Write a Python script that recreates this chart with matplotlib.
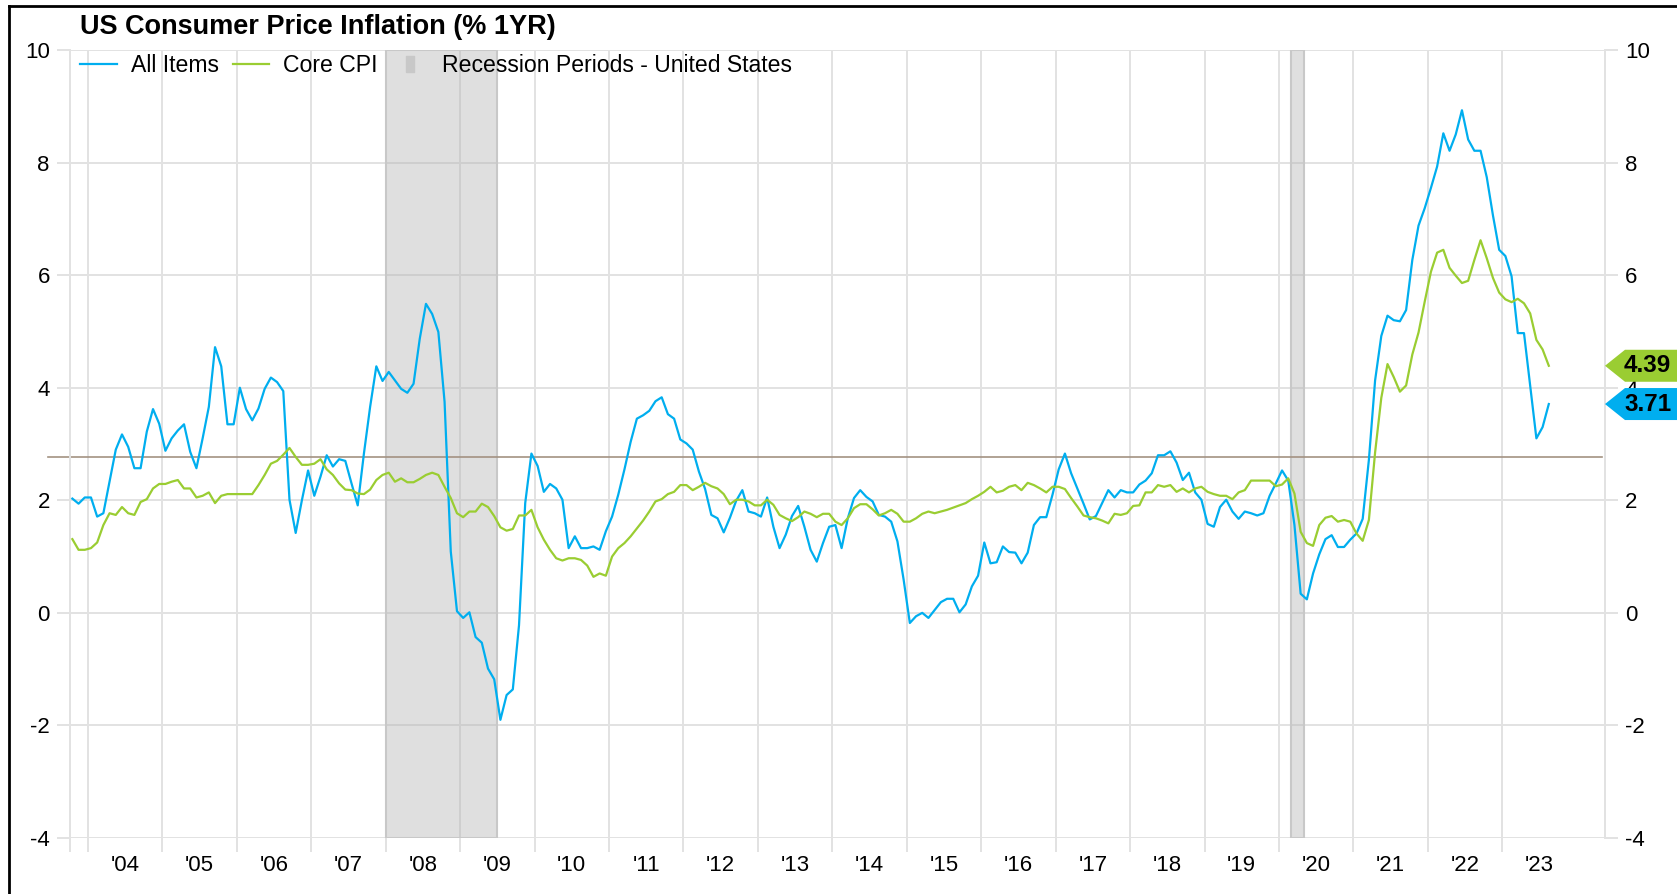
import numpy as np
import matplotlib.pyplot as plt
from matplotlib.patches import Polygon
from matplotlib.lines import Line2D
from matplotlib.transforms import blended_transform_factory

# monthly year-over-year CPI, Oct 2003 .. Aug 2023
all_items = [
    2.03, 1.94, 2.05,
    2.05, 1.71, 1.77, 2.33, 2.90, 3.17, 2.95, 2.57, 2.57, 3.22, 3.62, 3.36,
    2.88, 3.10, 3.24, 3.35, 2.86, 2.57, 3.10, 3.66, 4.72, 4.38, 3.35, 3.35,
    4.00, 3.62, 3.42, 3.63, 3.98, 4.18, 4.10, 3.94, 2.01, 1.42, 2.00, 2.53,
    2.08, 2.42, 2.80, 2.60, 2.73, 2.70, 2.30, 1.91, 2.83, 3.66, 4.38, 4.12,
    4.28, 4.13, 3.98, 3.91, 4.07, 4.87, 5.49, 5.31, 4.99, 3.75, 1.09, 0.03,
    -0.09, 0.01, -0.43, -0.53, -0.99, -1.18, -1.90, -1.46, -1.36, -0.22, 1.95, 2.83,
    2.61, 2.15, 2.29, 2.21, 2.01, 1.15, 1.36, 1.15, 1.15, 1.18, 1.12, 1.45,
    1.71, 2.10, 2.55, 3.04, 3.45, 3.51, 3.59, 3.76, 3.83, 3.53, 3.45, 3.08,
    3.01, 2.90, 2.51, 2.20, 1.74, 1.68, 1.43, 1.69, 1.99, 2.18, 1.80, 1.77,
    1.71, 2.05, 1.53, 1.15, 1.39, 1.72, 1.90, 1.53, 1.12, 0.91, 1.24, 1.53,
    1.56, 1.15, 1.68, 2.04, 2.18, 2.06, 1.98, 1.74, 1.71, 1.62, 1.27, 0.59,
    -0.18, -0.06, 0.00, -0.09, 0.05, 0.19, 0.25, 0.25, 0.01, 0.15, 0.47, 0.66,
    1.25, 0.88, 0.90, 1.18, 1.08, 1.07, 0.88, 1.07, 1.56, 1.70, 1.70, 2.10,
    2.55, 2.83, 2.48, 2.21, 1.94, 1.66, 1.72, 1.95, 2.18, 2.05, 2.18, 2.14,
    2.14, 2.28, 2.35, 2.48, 2.80, 2.80, 2.87, 2.67, 2.36, 2.49, 2.14, 2.01,
    1.58, 1.53, 1.88, 2.01, 1.80, 1.67, 1.80, 1.77, 1.73, 1.77, 2.08, 2.30,
    2.53, 2.35, 1.56, 0.34, 0.24, 0.70, 1.04, 1.31, 1.38, 1.17, 1.17, 1.30,
    1.41, 1.67, 2.72, 4.13, 4.92, 5.28, 5.20, 5.18, 5.38, 6.27, 6.88, 7.19,
    7.55, 7.93, 8.52, 8.21, 8.50, 8.93, 8.41, 8.21, 8.21, 7.74, 7.06, 6.45,
    6.34, 5.98, 4.97, 4.97, 4.04, 3.10, 3.30, 3.71,
]
core_cpi = [
    1.31, 1.12, 1.12,
    1.15, 1.25, 1.56, 1.77, 1.74, 1.88, 1.77, 1.74, 1.97, 2.02, 2.21, 2.29,
    2.29, 2.33, 2.36, 2.21, 2.21, 2.05, 2.08, 2.14, 1.95, 2.08, 2.11, 2.11,
    2.11, 2.11, 2.11, 2.27, 2.45, 2.65, 2.70, 2.81, 2.93, 2.77, 2.63, 2.63,
    2.65, 2.73, 2.55, 2.45, 2.30, 2.19, 2.18, 2.12, 2.11, 2.19, 2.36, 2.45,
    2.49, 2.33, 2.39, 2.32, 2.32, 2.38, 2.45, 2.49, 2.45, 2.24, 2.04, 1.77,
    1.70, 1.80, 1.80, 1.94, 1.88, 1.72, 1.52, 1.46, 1.49, 1.73, 1.73, 1.83,
    1.52, 1.30, 1.12, 0.97, 0.93, 0.97, 0.97, 0.94, 0.84, 0.64, 0.70, 0.66,
    1.00, 1.15, 1.24, 1.36, 1.50, 1.64, 1.80, 1.98, 2.02, 2.11, 2.15, 2.27,
    2.27, 2.18, 2.24, 2.31, 2.25, 2.21, 2.11, 1.93, 2.01, 2.01, 1.98, 1.91,
    1.91, 2.01, 1.92, 1.74, 1.68, 1.63, 1.70, 1.80, 1.76, 1.70, 1.76, 1.76,
    1.62, 1.56, 1.68, 1.86, 1.93, 1.93, 1.84, 1.73, 1.77, 1.83, 1.76, 1.62,
    1.62, 1.68, 1.76, 1.80, 1.77, 1.80, 1.83, 1.87, 1.91, 1.95, 2.02, 2.08,
    2.15, 2.24, 2.14, 2.17, 2.24, 2.27, 2.18, 2.31, 2.27, 2.21, 2.14, 2.24,
    2.24, 2.20, 2.04, 1.89, 1.73, 1.70, 1.68, 1.64, 1.59, 1.76, 1.74, 1.77,
    1.90, 1.91, 2.14, 2.14, 2.27, 2.24, 2.27, 2.15, 2.21, 2.14, 2.21, 2.24,
    2.15, 2.11, 2.08, 2.08, 2.02, 2.14, 2.18, 2.35, 2.35, 2.35, 2.35, 2.25,
    2.28, 2.39, 2.12, 1.44, 1.24, 1.19, 1.56, 1.69, 1.72, 1.62, 1.65, 1.62,
    1.41, 1.28, 1.65, 2.85, 3.82, 4.42, 4.19, 3.93, 4.04, 4.59, 4.98, 5.53,
    6.06, 6.40, 6.45, 6.13, 5.99, 5.86, 5.90, 6.27, 6.62, 6.30, 5.95, 5.69,
    5.57, 5.52, 5.58, 5.50, 5.32, 4.85, 4.68, 4.39,
]
start_year, start_month = 2003, 10
recessions = [((2008, 1), (2009, 6)), ((2020, 3), (2020, 4))]
label_years = list(range(2004, 2024))
year_labels = ["'%02d" % (y % 100) for y in label_years]
long_run_avg = 2.77

BLUE = '#00aeef'
GREEN = '#9acd32'
GRID = '#e2e2e2'
W, H = 1677, 894

plt.rcParams['font.family'] = ['Liberation Sans', 'DejaVu Sans']
plt.rcParams['axes.unicode_minus'] = False

n = len(all_items)
x = start_year + (start_month - 1) / 12 + (np.arange(n) + 0.5) / 12

fig = plt.figure(figsize=(W / 100, H / 100), dpi=100)
ax = fig.add_axes([70 / W, 1 - 838 / H, (1605 - 70) / W, (838 - 50) / H])
x0, x1 = 2003.76, 2024.38
ax.set_xlim(x0, x1)
ax.set_ylim(-4, 10)

# recession shading
for (ys, ms), (ye, me) in recessions:
    ax.axvspan(ys + (ms - 1) / 12, ye + me / 12, facecolor=(0.69, 0.69, 0.69, 0.4),
               edgecolor='#c8c8c8', lw=1.5, zorder=1)

ax.axhline(long_run_avg, xmin=-0.0145, xmax=0.998, color='#a39282', lw=1.2,
           clip_on=False, zorder=2)
ax.plot(x, all_items, color=BLUE, lw=1.6, zorder=3)
ax.plot(x, core_cpi, color=GREEN, lw=1.6, zorder=3)

# ticks and grid
ax.set_xticks([x0] + label_years)
ax.set_xticks([y + 0.5 for y in label_years], minor=True)
ax.set_xticklabels(year_labels, minor=True)
ax.set_yticks(range(-4, 11, 2))
ax.grid(True, which='major', color=GRID, lw=1.4)
ax.set_axisbelow(True)
ax.tick_params(axis='x', which='major', length=10, width=1.4, color=GRID, labelbottom=False)
ax.tick_params(axis='x', which='minor', length=0, pad=12, labelsize=16)
ax.tick_params(axis='y', length=9.5, width=1.4, color=GRID, pad=5, labelsize=16,
               left=True, right=True, labelleft=True, labelright=True)
for side in ['top', 'bottom']:
    ax.spines[side].set_visible(False)
for side in ['left', 'right']:
    ax.spines[side].set_color(GRID)
    ax.spines[side].set_linewidth(1.4)

# legend
rect = [(-0.5, -1), (0.5, -1), (0.5, 1), (-0.5, 1), (-0.5, -1)]
handles = [Line2D([], [], color=BLUE, lw=1.6),
           Line2D([], [], color=GREEN, lw=1.6),
           Line2D([], [], ls='none', marker=rect, markersize=12, color='#c8c8c8')]
fig.legend(handles, ['All Items', 'Core CPI', 'Recession Periods - United States'],
           loc='center left', bbox_to_anchor=(80 / W, 1 - 66 / H), ncol=3, frameon=False,
           fontsize=16.6, handlelength=1.6, handletextpad=0.6, columnspacing=0.6,
           borderaxespad=0, borderpad=0)

fig.text(80 / W, 1 - 27 / H, 'US Consumer Price Inflation (% 1YR)', fontsize=19.5,
         fontweight='bold', va='center', ha='left')

# last value tags
trans = blended_transform_factory(fig.transFigure, ax.transData)
half = 16 / ((838 - 50) / 14)
xp, xb = 1605 / W, 1625 / W
for series, col in [(core_cpi, GREEN), (all_items, BLUE)]:
    v = series[-1]
    poly = Polygon([[xp, v], [xb, v + half], [1.0, v + half], [1.0, v - half], [xb, v - half]],
                   closed=True, transform=trans, facecolor=col, edgecolor='none', zorder=10)
    fig.add_artist(poly)
    fig.text(1624 / W, v, '%.2f' % v, transform=trans, fontsize=17.5, fontweight='bold',
             va='center', ha='left', zorder=11)

# frame edges of the screenshot
fig.add_artist(Line2D([9 / W, 9 / W], [0, 1 - 6 / H], color='black', lw=2))
fig.add_artist(Line2D([9 / W, 1], [1 - 6 / H, 1 - 6 / H], color='black', lw=2))

fig.savefig('out.png', dpi=100)
